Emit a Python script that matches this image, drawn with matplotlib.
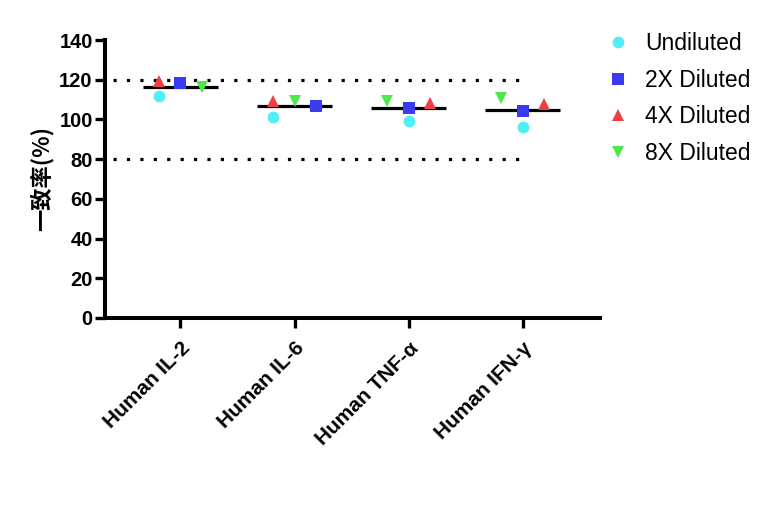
import matplotlib
matplotlib.use("Agg")
import matplotlib.pyplot as plt
import numpy as np

plt.rcParams["font.family"] = ["Liberation Sans", "Noto Sans CJK SC", "DejaVu Sans"]

# data
groups = ["Human IL-2", "Human IL-6", "Human TNF-α", "Human IFN-γ"]
series = ["Undiluted", "2X Diluted", "4X Diluted", "8X Diluted"]
undiluted = [111.8, 101.4, 99.4, 96.3]
diluted_2x = [118.5, 106.8, 105.6, 104.4]
diluted_4x = [119.2, 109.3, 108.1, 107.6]
diluted_8x = [116.2, 109.4, 109.5, 110.6]
lower_limit = 80
upper_limit = 120

# style / layout
colors = ["#52EEF6", "#3A3AEE", "#EE4040", "#4CE84C"]
markers = ["o", "s", "^", "v"]
msizes = [8.5, 8, 9, 9]
# horizontal spread of points inside each group (Prism-like arrangement)
offsets = [
    [-0.19, -0.19, 0.0, 0.0],
    [0.0, 0.19, 0.0, 0.0],
    [-0.19, -0.19, 0.19, 0.19],
    [0.19, 0.0, -0.19, -0.19],
]

fig = plt.figure(figsize=(7.73, 5.07), dpi=100)
ax = fig.add_axes([0.136, 0.373, 0.640, 0.548])

x = np.arange(1, len(groups) + 1)
values = [undiluted, diluted_2x, diluted_4x, diluted_8x]

ax.hlines([upper_limit, lower_limit], 0.41, 3.97, colors="black",
          linestyles=(0, (1, 3.2)), linewidth=2.3, zorder=1)

means = np.mean(np.array(values), axis=0)
ax.hlines(means, x - 0.33, x + 0.33, colors="black", linewidth=2.3, zorder=2)

for vals, off, c, m, ms, lab in zip(values, offsets, colors, markers, msizes, series):
    ax.plot(x + np.array(off), vals, ls="none", marker=m, ms=ms, color=c,
            markeredgewidth=0, label=lab, zorder=3)

ax.set_xlim(0.34, 4.675)
ax.set_ylim(0, 140)
ax.set_yticks(np.arange(0, 141, 20))
ax.set_xticks(x)
ax.set_xticklabels(groups, rotation=45, ha="right", rotation_mode="anchor",
                   fontsize=15, fontweight="bold")
for t in ax.get_yticklabels():
    t.set_fontsize(14.5)
    t.set_fontweight("bold")

for s in ["top", "right"]:
    ax.spines[s].set_visible(False)
for s in ["left", "bottom"]:
    ax.spines[s].set_linewidth(2.9)
ax.tick_params(axis="both", width=2.4, length=7, pad=2)
ax.tick_params(axis="x", pad=8)

ax.set_ylabel("一致率(%)", fontsize=16, fontweight="bold",
              family=["Noto Sans CJK SC", "DejaVu Sans"], labelpad=4)

fig.legend(loc="upper left", bbox_to_anchor=(0.756, 0.978), frameon=False,
           fontsize=16.5, handletextpad=0.65, labelspacing=0.6, handlelength=1.1)

fig.savefig("out.png", dpi=100)
